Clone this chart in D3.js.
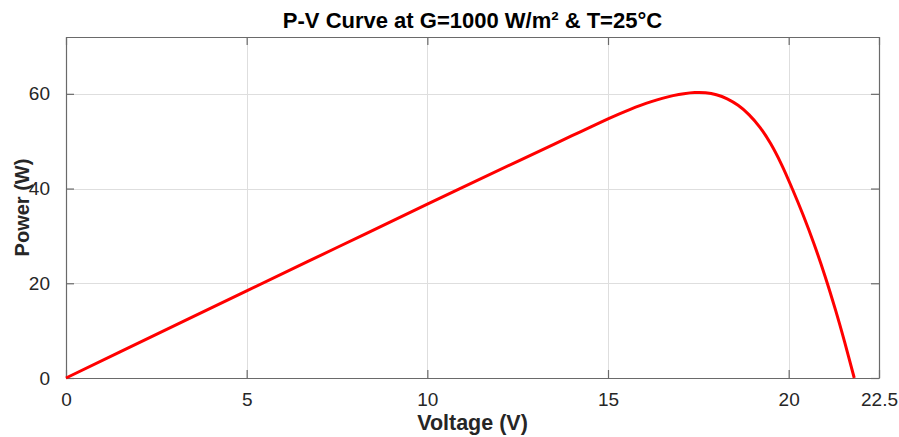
<!DOCTYPE html>
<html>
<head>
<meta charset="utf-8">
<script src="https://cdn.jsdelivr.net/npm/d3@7"></script>
<style>
  html, body { margin: 0; padding: 0; background: #fff; }
  svg { display: block; font-family: "Liberation Sans", Arial, Helvetica, sans-serif; }
</style>
</head>
<body>
<svg id="chart" width="899" height="437"></svg>
<script>
// PV module operating points (voltage in V, power in W)
const voltage = [0, 2.5, 5, 7.5, 10, 12.5, 13.5, 14.25, 15.0, 15.3, 15.6, 15.9, 16.2, 16.5, 16.8, 17.1, 17.4, 17.7, 18.0, 18.3, 18.6, 18.9, 19.2, 19.5, 19.8, 20.1, 20.4, 20.7, 21.0, 21.3, 21.55, 21.815];
const power   = [0, 9.2, 18.4, 27.55, 36.7, 45.75, 49.35, 52.03, 54.7, 55.72, 56.68, 57.57, 58.36, 59.05, 59.62, 60.04, 60.28, 60.24, 59.82, 58.95, 57.57, 55.62, 52.98, 49.5, 45.12, 39.96, 34.41, 28.35, 21.66, 14.28, 7.58, 0];

const xTicks = [0, 5, 10, 15, 20, 22.5];
const yTicks = [0, 20, 40, 60];
const xDomain = [0, 22.5];
const yDomain = [0, 72];

const titleText = "P-V Curve at G=1000 W/m² & T=25°C";
const xLabel = "Voltage (V)";
const yLabel = "Power (W)";

const W = 899, H = 437;
const margin = { top: 37, right: 20, bottom: 59, left: 66 };
const iw = W - margin.left - margin.right;
const ih = H - margin.top - margin.bottom;

const svg = d3.select("#chart");
svg.append("rect").attr("width", W).attr("height", H).attr("fill", "#fff");

const g = svg.append("g").attr("transform", `translate(${margin.left},${margin.top})`);

const x = d3.scaleLinear().domain(xDomain).range([0, iw]);
const y = d3.scaleLinear().domain(yDomain).range([ih, 0]);

// grid
g.append("g").selectAll("line").data(xTicks.filter(v => v > xDomain[0] && v < xDomain[1]))
  .join("line")
  .attr("x1", d => Math.round(x(d)) + 0.5).attr("x2", d => Math.round(x(d)) + 0.5)
  .attr("y1", 0).attr("y2", ih)
  .attr("stroke", "#dedede").attr("stroke-width", 1);
g.append("g").selectAll("line").data(yTicks.filter(v => v > yDomain[0] && v < yDomain[1]))
  .join("line")
  .attr("y1", d => Math.round(y(d)) + 0.5).attr("y2", d => Math.round(y(d)) + 0.5)
  .attr("x1", 0).attr("x2", iw)
  .attr("stroke", "#dedede").attr("stroke-width", 1);

// axes (inward ticks, box style)
const tickLen = 8;
const fmt = d => String(d);
const axisColor = "#262626";

const xAxis = g.append("g").attr("transform", `translate(0,${ih})`)
  .call(d3.axisBottom(x).tickValues(xTicks).tickFormat(fmt).tickSizeInner(-tickLen).tickSizeOuter(0).tickPadding(tickLen + 7));
const yAxis = g.append("g")
  .call(d3.axisLeft(y).tickValues(yTicks).tickFormat(fmt).tickSizeInner(-tickLen).tickSizeOuter(0).tickPadding(tickLen + 8));
const xTop = g.append("g")
  .call(d3.axisTop(x).tickValues(xTicks).tickFormat("").tickSizeInner(-tickLen).tickSizeOuter(0));
const yRight = g.append("g").attr("transform", `translate(${iw},0)`)
  .call(d3.axisRight(y).tickValues(yTicks).tickFormat("").tickSizeInner(-tickLen).tickSizeOuter(0));

[xAxis, yAxis, xTop, yRight].forEach(a => {
  a.select(".domain").attr("stroke", "#6a6a6a").attr("stroke-width", 1.2);
  a.selectAll(".tick line").attr("stroke", "#6a6a6a").attr("stroke-width", 1.2);
  a.selectAll(".tick text").attr("fill", axisColor).attr("font-size", 19)
    .attr("font-family", "'Liberation Sans', Arial, sans-serif");
});

// power curve
const pts = voltage.map((v, i) => [v, power[i]]);
const line = d3.line().x(d => x(d[0])).y(d => y(d[1])).curve(d3.curveCatmullRom.alpha(0.5));
g.append("path").datum(pts)
  .attr("d", line)
  .attr("fill", "none")
  .attr("stroke", "#ff0000")
  .attr("stroke-width", 3)
  .attr("stroke-linejoin", "round");

// title and labels
svg.append("text")
  .attr("x", margin.left + iw / 2).attr("y", 28)
  .attr("text-anchor", "middle")
  .attr("font-weight", "bold").attr("font-size", 22).attr("fill", "#000")
  .text(titleText);

svg.append("text")
  .attr("x", margin.left + iw / 2).attr("y", 430)
  .attr("text-anchor", "middle")
  .attr("font-weight", "bold").attr("font-size", 21.5).attr("fill", axisColor)
  .text(xLabel);

svg.append("text")
  .attr("transform", `translate(29,${margin.top + ih / 2}) rotate(-90)`)
  .attr("text-anchor", "middle")
  .attr("font-weight", "bold").attr("font-size", 20).attr("fill", axisColor)
  .text(yLabel);
</script>
</body>
</html>
